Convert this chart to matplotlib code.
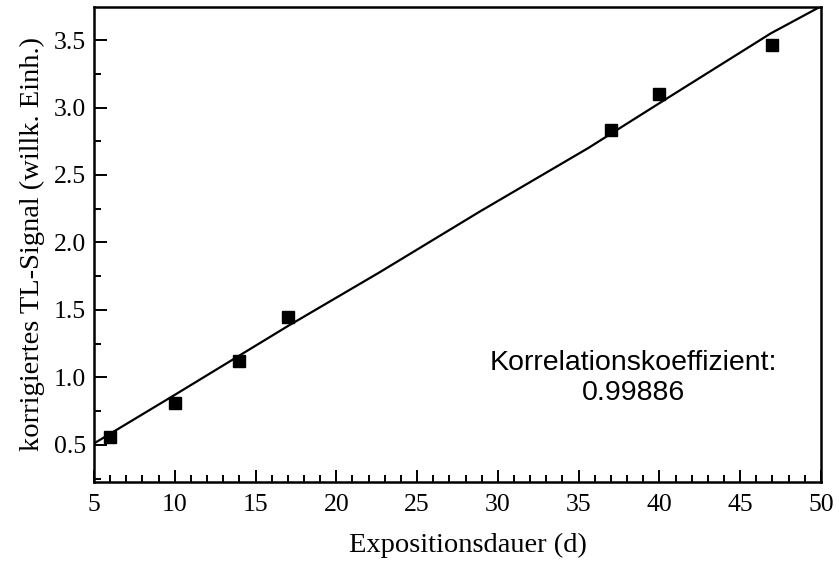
import numpy as np
import matplotlib
matplotlib.use("Agg")
import matplotlib.pyplot as plt
from matplotlib.ticker import MultipleLocator

# ── Data ──────────────────────────────────────────────────────────────────────
days = [6, 10, 14, 17, 37, 40, 47]
tl_signal = [0.56, 0.81, 1.12, 1.45, 2.83, 3.10, 3.46]

# fitted curve as drawn in the original (polyline nodes)
fit_days = [5, 10, 17, 22.7, 28.9, 35.6, 40.5, 46.9, 50]
fit_signal = [0.51, 0.87, 1.38, 1.78, 2.23, 2.70, 3.07, 3.55, 3.75]

corr_label = "Korrelationskoeffizient:\n0.99886"

# ── Plot ──────────────────────────────────────────────────────────────────────
fig = plt.figure(figsize=(8.39, 5.61), dpi=100)
ax = fig.add_axes([0.112, 0.141, 0.8665, 0.8465])

ax.plot(fit_days, fit_signal, color="black", linewidth=1.6, zorder=2)
ax.plot(days, tl_signal, linestyle="none", marker="s", markersize=8.5,
        color="black", zorder=3)

ax.set_xlim(5, 50)
ax.set_ylim(0.225, 3.745)
ax.xaxis.set_major_locator(MultipleLocator(5))
ax.xaxis.set_minor_locator(MultipleLocator(1))
ax.yaxis.set_major_locator(MultipleLocator(0.5))
ax.yaxis.set_minor_locator(MultipleLocator(0.25))
ax.yaxis.set_major_formatter(matplotlib.ticker.FormatStrFormatter("%.1f"))

ax.tick_params(which="both", direction="in", top=False, right=False,
               width=1.4, labelsize=18.5)
ax.tick_params(axis="x", which="both", pad=9)
ax.tick_params(axis="y", which="both", pad=6)
ax.tick_params(which="major", length=9)
ax.tick_params(which="minor", length=5)
for lbl in ax.get_xticklabels() + ax.get_yticklabels():
    lbl.set_fontfamily("Liberation Serif")

for sp in ax.spines.values():
    sp.set_linewidth(1.8)

ax.set_xlabel("Expositionsdauer (d)", fontsize=20.5,
              fontfamily="Liberation Serif")
ax.xaxis.set_label_coords(0.514, -0.133, transform=ax.transAxes)
ax.xaxis.label.set_va("center")
ax.set_ylabel("korrigiertes TL-Signal (willk. Einh.)", fontsize=20.5,
              fontfamily="Liberation Serif", labelpad=6)

ax.text(0.742, 0.219, corr_label, transform=ax.transAxes, ha="center",
        va="center", fontsize=20.5, fontfamily="Liberation Sans",
        linespacing=1.22)

plt.savefig("out.png", dpi=100)
